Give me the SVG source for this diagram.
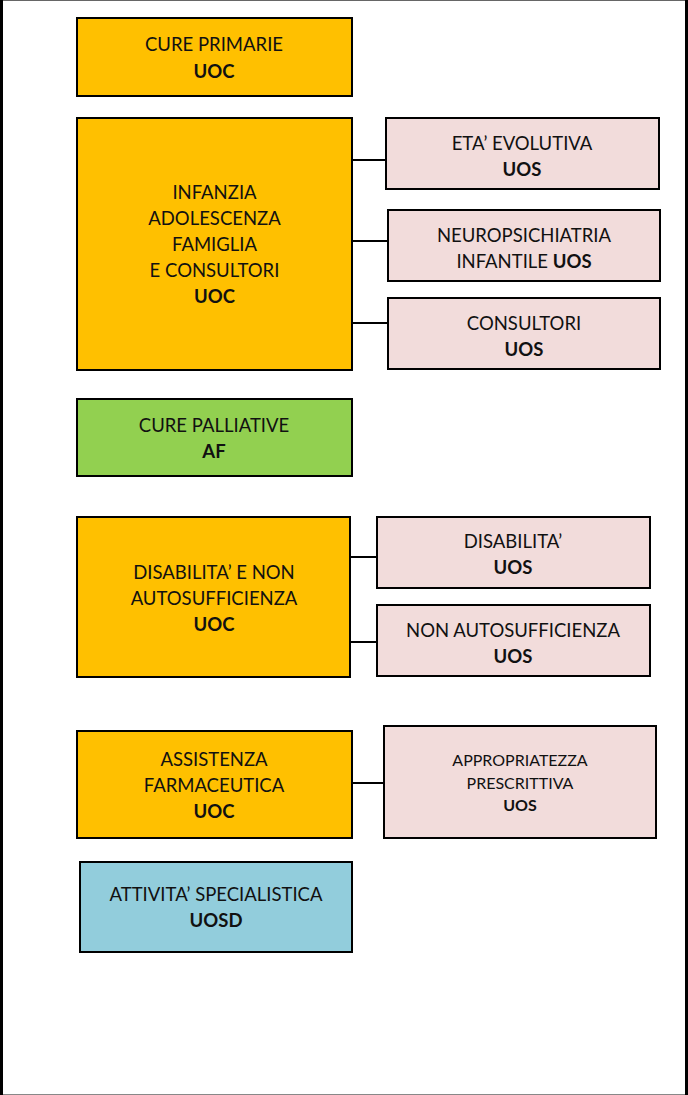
<svg xmlns="http://www.w3.org/2000/svg" width="688" height="1095" viewBox="0 0 688 1095">
  <style>
    .box { stroke: #000; stroke-width: 2; }
    .uoc { fill: #FFC000; }
    .uos { fill: #F2DCDB; }
    .af { fill: #92D050; }
    .uosd { fill: #92CDDC; }
    text { font-family: Lato, "Open Sans", "Liberation Sans", sans-serif; font-size: 18.5px; fill: #111; text-anchor: middle; }
    .small { font-size: 16px; }
    .b { font-weight: bold; }
    .link { stroke: #000; stroke-width: 2; fill: none; }
  </style>

  <!-- page frame -->
  <rect x="0" y="0" width="688" height="1095" fill="#fff"/>
  <line x1="0" y1="0.5" x2="688" y2="0.5" stroke="#666" stroke-width="1"/>
  <line x1="0" y1="1094.5" x2="688" y2="1094.5" stroke="#888" stroke-width="1"/>
  <line x1="1.5" y1="0" x2="1.5" y2="1095" stroke="#000" stroke-width="3"/>
  <line x1="686.5" y1="0" x2="686.5" y2="1095" stroke="#000" stroke-width="3"/>

  <!-- connectors -->
  <g id="connectors">
    <line class="link" x1="352" y1="160" x2="386" y2="160"/>
    <line class="link" x1="352" y1="241" x2="388" y2="241"/>
    <line class="link" x1="352" y1="323" x2="388" y2="323"/>
    <line class="link" x1="350" y1="557" x2="377" y2="557"/>
    <line class="link" x1="350" y1="642" x2="377" y2="642"/>
    <line class="link" x1="352" y1="783" x2="384" y2="783"/>
  </g>

  <g id="cure-primarie">
    <rect class="box uoc" x="77" y="18" width="275" height="78"/>
    <text x="214" y="51">CURE PRIMARIE</text>
    <text class="b" x="214" y="78">UOC</text>
  </g>

  <g id="infanzia">
    <rect class="box uoc" x="77" y="118" width="275" height="252"/>
    <text x="214.5" y="199">INFANZIA</text>
    <text x="214.5" y="225">ADOLESCENZA</text>
    <text x="214.5" y="251">FAMIGLIA</text>
    <text x="214.5" y="277">E CONSULTORI</text>
    <text class="b" x="214.5" y="303">UOC</text>
  </g>

  <g id="eta-evolutiva">
    <rect class="box uos" x="386" y="118" width="273" height="71"/>
    <text x="522" y="150">ETA’ EVOLUTIVA</text>
    <text class="b" x="522" y="176">UOS</text>
  </g>

  <g id="neuropsichiatria">
    <rect class="box uos" x="388" y="210" width="272" height="71"/>
    <text x="524" y="242">NEUROPSICHIATRIA</text>
    <text x="524" y="268">INFANTILE <tspan class="b">UOS</tspan></text>
  </g>

  <g id="consultori">
    <rect class="box uos" x="388" y="298" width="272" height="71"/>
    <text x="524" y="330">CONSULTORI</text>
    <text class="b" x="524" y="356">UOS</text>
  </g>

  <g id="cure-palliative">
    <rect class="box af" x="77" y="399" width="275" height="77"/>
    <text x="214" y="432">CURE PALLIATIVE</text>
    <text class="b" x="214" y="458">AF</text>
  </g>

  <g id="disabilita-non-autosufficienza">
    <rect class="box uoc" x="77" y="517" width="273" height="160"/>
    <text x="214" y="579">DISABILITA’ E NON</text>
    <text x="214" y="605">AUTOSUFFICIENZA</text>
    <text class="b" x="214" y="631">UOC</text>
  </g>

  <g id="disabilita">
    <rect class="box uos" x="377" y="517" width="273" height="71"/>
    <text x="513" y="548">DISABILITA’</text>
    <text class="b" x="513" y="574">UOS</text>
  </g>

  <g id="non-autosufficienza">
    <rect class="box uos" x="377" y="605" width="273" height="71"/>
    <text x="513" y="637">NON AUTOSUFFICIENZA</text>
    <text class="b" x="513" y="663">UOS</text>
  </g>

  <g id="assistenza-farmaceutica">
    <rect class="box uoc" x="77" y="731" width="275" height="107"/>
    <text x="214" y="766">ASSISTENZA</text>
    <text x="214" y="792">FARMACEUTICA</text>
    <text class="b" x="214" y="818">UOC</text>
  </g>

  <g id="appropriatezza-prescrittiva">
    <rect class="box uos" x="384" y="726" width="272" height="112"/>
    <text class="small" x="520" y="766">APPROPRIATEZZA</text>
    <text class="small" x="520" y="789">PRESCRITTIVA</text>
    <text class="small b" x="520" y="811">UOS</text>
  </g>

  <g id="attivita-specialistica">
    <rect class="box uosd" x="80" y="862" width="272" height="90"/>
    <text x="216" y="901">ATTIVITA’ SPECIALISTICA</text>
    <text class="b" x="216" y="927">UOSD</text>
  </g>
</svg>
